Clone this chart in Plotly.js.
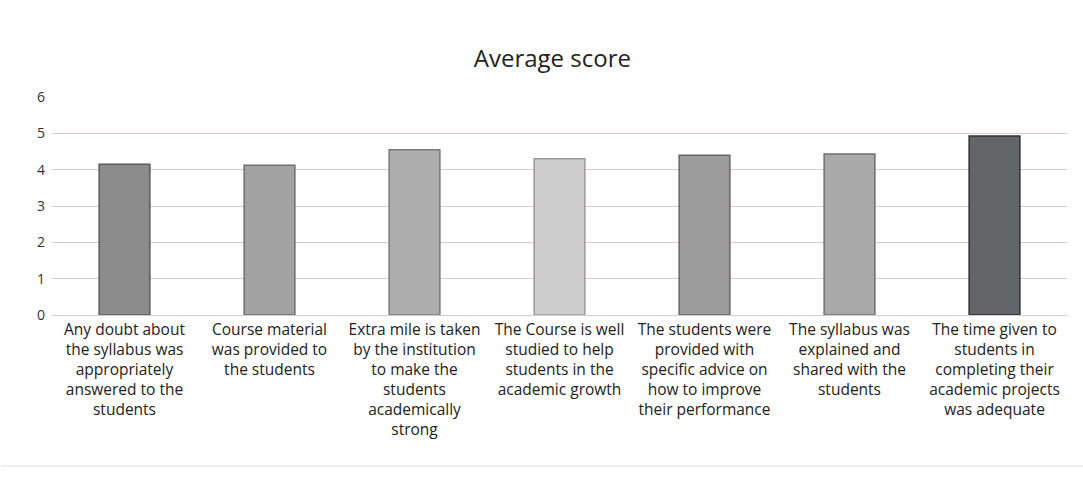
<!DOCTYPE html>
<html>
<head>
<meta charset="utf-8">
<script src="https://cdn.plot.ly/plotly-3.0.1.min.js"></script>
<style>
  html, body { margin: 0; padding: 0; background: #ffffff; }
  #chart { width: 1083px; height: 493px; }
</style>
</head>
<body>
<div id="chart"></div>
<script>
const categories = [
  "Any doubt about the syllabus was appropriately answered to the students",
  "Course material was provided to the students",
  "Extra mile is taken by the institution to make the students academically strong",
  "The Course is well studied to help students in the academic growth",
  "The students were provided with specific advice on how to improve their performance",
  "The syllabus was explained and shared with the students",
  "The time given to students in completing their academic projects was adequate"
];
const tickLabels = [
  "Any doubt about<br>the syllabus was<br>appropriately<br>answered to the<br>students",
  "Course material<br>was provided to<br>the students",
  "Extra mile is taken<br>by the institution<br>to make the<br>students<br>academically<br>strong",
  "The Course is well<br>studied to help<br>students in the<br>academic growth",
  "The students were<br>provided with<br>specific advice on<br>how to improve<br>their performance",
  "The syllabus was<br>explained and<br>shared with the<br>students",
  "The time given to<br>students in<br>completing their<br>academic projects<br>was adequate"
];
const averageScore = [4.15, 4.12, 4.55, 4.3, 4.4, 4.43, 4.93];
const barColors = ["#8c8c8c", "#a3a3a3", "#aeaeae", "#cdcdcd", "#9b9b9b", "#a9a9a9", "#636669"];
const barEdges = ["#5a5a5a", "#6e6e6e", "#7a7a7a", "#9a9a9a", "#666666", "#707070", "#2e3033"];
const yTicks = [0, 1, 2, 3, 4, 5, 6];

const trace = {
  type: "bar",
  x: categories,
  y: averageScore,
  marker: { color: barColors, line: { color: barEdges, width: 1.5 } },
  hoverinfo: "x+y"
};

const layout = {
  width: 1083,
  height: 493,
  margin: { l: 52, r: 16, t: 97, b: 178 },
  paper_bgcolor: "#ffffff",
  plot_bgcolor: "#ffffff",
  bargap: 0.65,
  showlegend: false,
  title: {
    text: "Average score",
    x: 0.51,
    xanchor: "center",
    y: 0.882,
    yanchor: "middle",
    font: { family: "Open Sans, sans-serif", size: 24, color: "#222222" }
  },
  xaxis: {
    type: "category",
    tickmode: "array",
    tickvals: categories,
    ticktext: tickLabels,
    tickangle: 0,
    tickfont: { family: "Open Sans, sans-serif", size: 15.5, color: "#222222" },
    showgrid: false,
    showline: true,
    linecolor: "#d8cccc",
    linewidth: 1,
    ticks: "",
    automargin: false
  },
  yaxis: {
    range: [0, 6],
    tickmode: "array",
    tickvals: yTicks,
    ticktext: yTicks.map(String),
    tickfont: { family: "Open Sans, sans-serif", size: 14, color: "#333333" },
    showgrid: true,
    gridcolor: "#d8cccc",
    gridwidth: 1,
    zeroline: false,
    showline: false,
    ticks: "",
    ticklabelstandoff: 6
  },
  shapes: [
    { type: "line", xref: "paper", yref: "paper", x0: -0.05, x1: 1.02, y0: -0.693, y1: -0.693,
      line: { color: "#dedede", width: 1 } }
  ]
};

Plotly.newPlot("chart", [trace], layout, { displayModeBar: false, staticPlot: true });
</script>
</body>
</html>
